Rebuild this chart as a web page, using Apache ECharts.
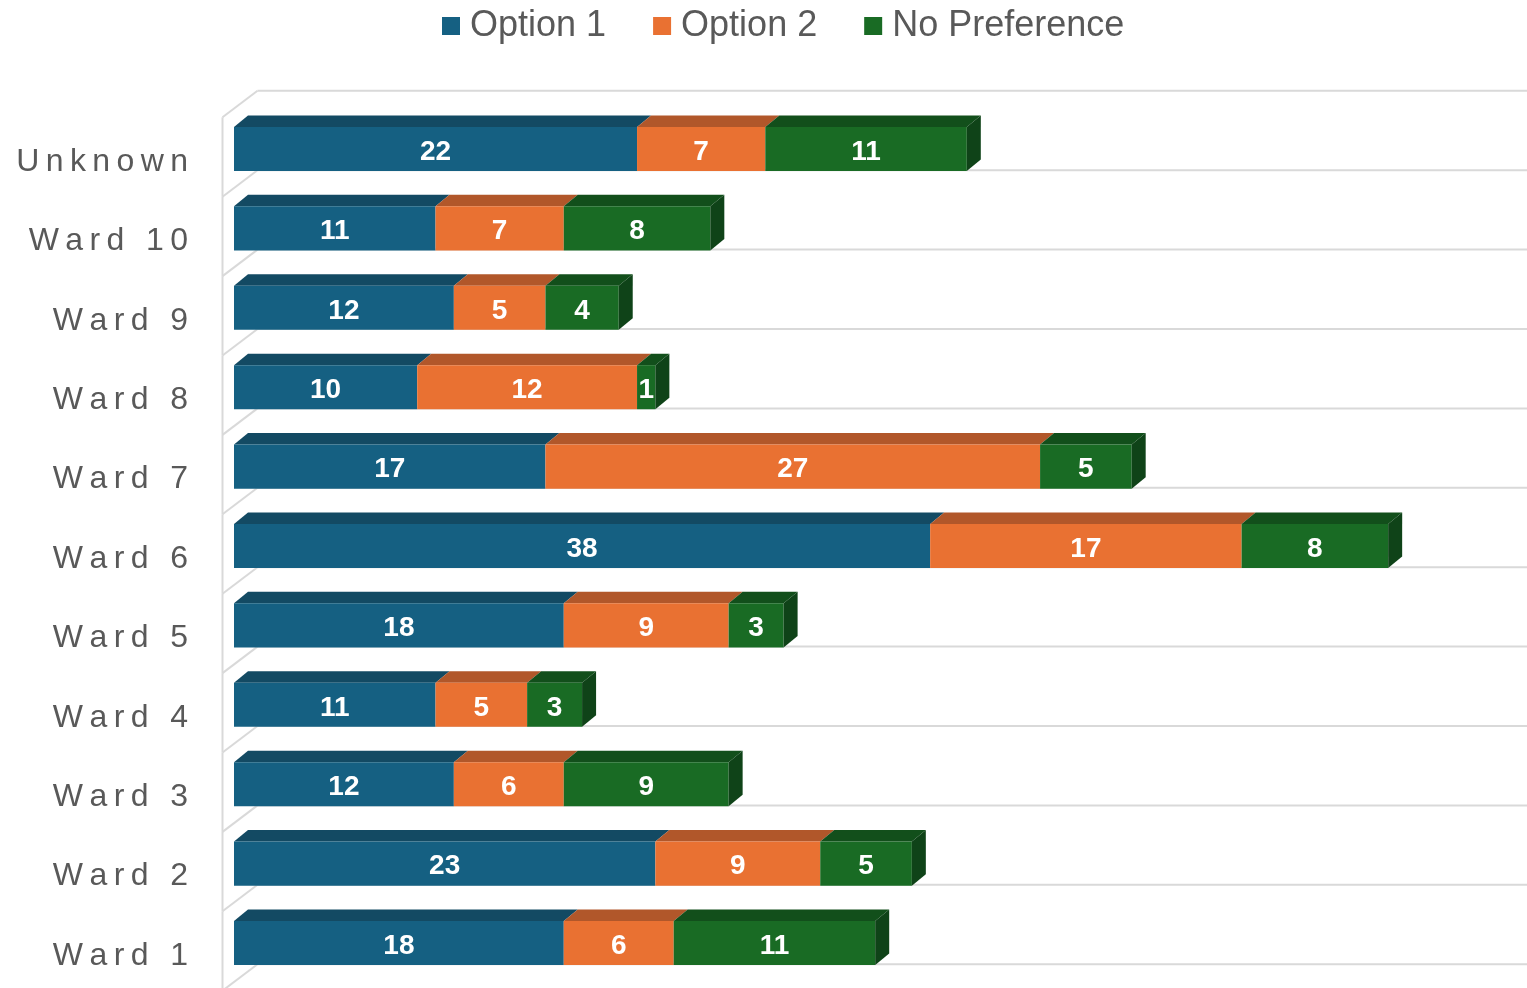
<!DOCTYPE html>
<html>
<head>
<meta charset="utf-8">
<title>Preference by ward</title>
<script src="https://cdn.jsdelivr.net/npm/echarts@6/dist/echarts.min.js"></script>
<style>
    * {
        margin: 0;
        padding: 0;
    }
    #main {
        width: 1527px;
        height: 988px;
        background: #fff;
    }
</style>
</head>
<body>
<div id="main"></div>
<script>
    // data, bottom row first
    var categories = ['Ward 1', 'Ward 2', 'Ward 3', 'Ward 4', 'Ward 5', 'Ward 6', 'Ward 7', 'Ward 8', 'Ward 9', 'Ward 10', 'Unknown'];
    var option1 = [18, 23, 12, 11, 18, 38, 17, 10, 12, 11, 22];
    var option2 = [6, 9, 6, 5, 9, 17, 27, 12, 5, 7, 7];
    var noPreference = [11, 5, 9, 3, 3, 8, 5, 1, 4, 8, 11];
    var seriesNames = ['Option 1', 'Option 2', 'No Preference'];

    var faces = [
        {front: '#156082', top: '#134a63', side: '#103f55'},
        {front: '#e97132', top: '#b1572a', side: '#9a4a22'},
        {front: '#196b24', top: '#124f1b', side: '#0f4318'}
    ];
    var barDepth = [14, -11.5];
    var wallFront = [-11.5, 8];
    var wallBack = [23.5, -18.5];
    var gridColor = '#d9d9d9';
    var fontFamily = '"Liberation Sans", Arial, sans-serif';

    // stack start / end per category
    function stackRows(values, below) {
        return values.map(function (v, i) {
            var start = 0;
            below.forEach(function (b) { start += b[i]; });
            return [i, start, start + v, v];
        });
    }

    var stacks = [
        stackRows(option1, []),
        stackRows(option2, [option1]),
        stackRows(noPreference, [option1, option2])
    ];

    function spaced(text) {
        return text.split('').join('\u2009');
    }

    function line(x1, y1, x2, y2) {
        return {
            type: 'line',
            shape: {x1: x1, y1: y1, x2: x2, y2: y2},
            style: {stroke: gridColor, lineWidth: 2}
        };
    }

    function frameItem(params, api) {
        var i = api.value(0);
        var c = api.coord([0, i]);
        var band = api.size([0, 1])[1];
        var x0 = c[0];
        var W = api.getWidth(), H = api.getHeight();
        var children = [];
        var edges = [c[1] + band / 2];
        if (i === categories.length - 1) edges.push(c[1] - band / 2);
        edges.forEach(function (y) {
            children.push(line(x0 + wallBack[0], y + wallBack[1], W, y + wallBack[1]));
            children.push(line(x0 + wallFront[0], y + wallFront[1], x0 + wallBack[0], y + wallBack[1]));
        });
        var yTop = c[1] - band / 2 + wallFront[1];
        var yBot = i === 0 ? H : c[1] + band / 2 + wallFront[1];
        children.push(line(x0 + wallFront[0], yTop, x0 + wallFront[0], yBot));
        return {type: 'group', children: children};
    }

    function barItem(k) {
        var f = faces[k];
        return function (params, api) {
            var cat = api.value(0);
            var p0 = api.coord([api.value(1), cat]);
            var p1 = api.coord([api.value(2), cat]);
            var h = api.size([0, 1])[1] * 0.555;
            var x0 = p0[0], x1 = p1[0];
            var yt = p0[1] - h / 2, yb = p0[1] + h / 2;
            var dx = barDepth[0], dy = barDepth[1];
            var children = [
                {
                    type: 'polygon',
                    shape: {points: [[x0, yt], [x1, yt], [x1 + dx, yt + dy], [x0 + dx, yt + dy]]},
                    style: {fill: f.top}
                },
                {
                    type: 'rect',
                    shape: {x: x0, y: yt, width: x1 - x0, height: h},
                    style: {fill: f.front}
                }
            ];
            if (k === 2) {
                children.push({
                    type: 'polygon',
                    shape: {points: [[x1, yt], [x1 + dx, yt + dy], [x1 + dx, yb + dy], [x1, yb]]},
                    style: {fill: f.side}
                });
            }
            children.push({
                type: 'text',
                style: {
                    text: String(api.value(3)),
                    x: (x0 + x1) / 2,
                    y: p0[1] + 3,
                    fill: '#fff',
                    font: 'bold 28px ' + fontFamily,
                    align: 'center',
                    verticalAlign: 'middle'
                }
            });
            return {type: 'group', children: children};
        };
    }

    var series = [{
        type: 'custom',
        name: 'frame',
        silent: true,
        clip: false,
        z: 1,
        renderItem: frameItem,
        encode: {y: 0},
        data: categories.map(function (c, i) { return [i]; })
    }];

    seriesNames.forEach(function (name, k) {
        series.push({
            type: 'custom',
            name: name,
            z: 2 + k,
            clip: false,
            itemStyle: {color: faces[k].front},
            renderItem: barItem(k),
            encode: {x: [1, 2], y: 0},
            data: stacks[k]
        });
    });

    var option = {
        animation: false,
        backgroundColor: '#fff',
        legend: {
            data: seriesNames.map(function (n) { return {name: n, icon: 'rect'}; }),
            left: 442,
            top: 8,
            padding: 0,
            itemWidth: 18,
            itemHeight: 18,
            itemGap: 47,
            textStyle: {
                color: '#595959',
                fontSize: 36,
                fontFamily: fontFamily,
                padding: [0, 0, 0, 5]
            }
        },
        grid: {
            left: 234,
            right: 10.6,
            top: 109.3,
            bottom: 5.3
        },
        xAxis: {
            type: 'value',
            min: 0,
            max: 70,
            show: false
        },
        yAxis: {
            type: 'category',
            data: categories,
            axisLine: {show: false},
            axisTick: {show: false},
            splitLine: {show: false},
            axisLabel: {
                color: '#595959',
                fontSize: 32,
                fontFamily: fontFamily,
                margin: 46,
                verticalAlign: 'top',
                lineHeight: 26,
                formatter: spaced
            }
        },
        series: series
    };

    var myChart = echarts.init(document.getElementById('main'));
    myChart.setOption(option);
</script>
</body>
</html>
